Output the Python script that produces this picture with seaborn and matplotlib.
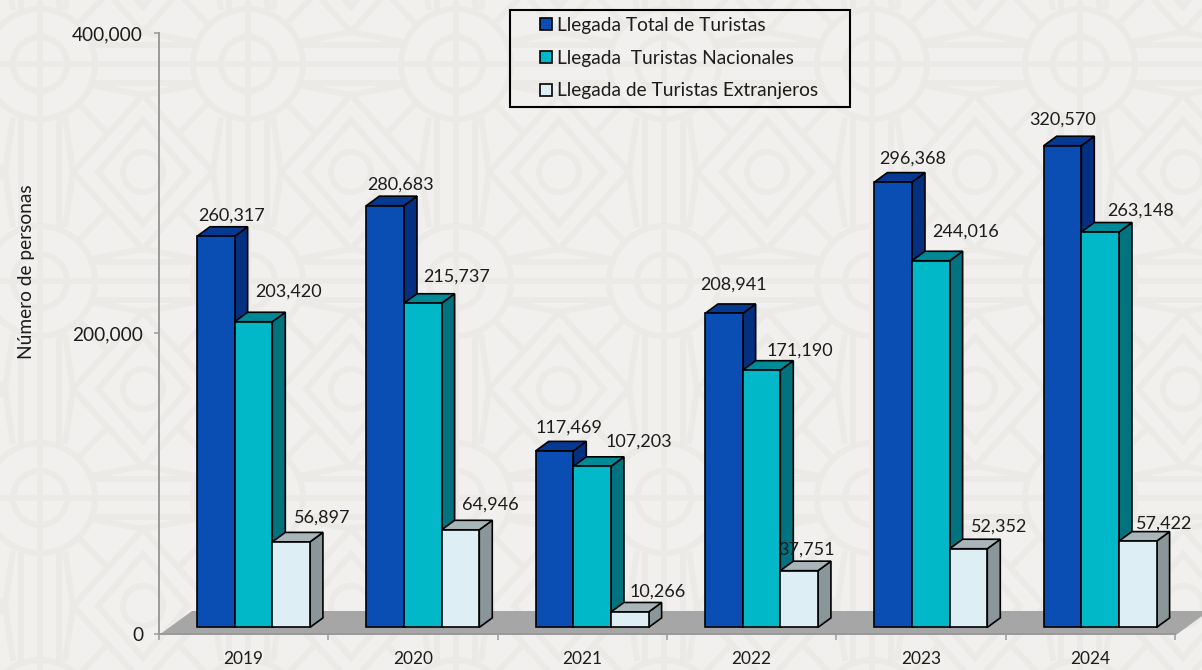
import pandas as pd
import matplotlib
matplotlib.use('Agg')
import matplotlib.pyplot as plt
import seaborn as sns
from matplotlib.patches import Circle, Patch, Polygon, Rectangle
from matplotlib.ticker import FixedLocator, FuncFormatter
from matplotlib.transforms import ScaledTranslation

# data
years = ['2019', '2020', '2021', '2022', '2023', '2024']
total = [260317, 280683, 117469, 208941, 296368, 320570]
nacionales = [203420, 215737, 107203, 171190, 244016, 263148]
extranjeros = [56897, 64946, 10266, 37751, 52352, 57422]
series_names = ['Llegada Total de Turistas', 'Llegada  Turistas Nacionales', 'Llegada de Turistas Extranjeros']

# colours front / side / top
front_colors = ['#0A4DB3', '#00B8C8', '#DDEFF5']
side_colors = ['#052F80', '#00737F', '#8A9699']
top_colors = ['#063A92', '#008A98', '#A9B6B9']

# label nudges in pixels, from the centre of the bar front
label_dx = [[16, 15, 14, 10, 19, 0], [35, 34, 47, 38, 35, 40], [31, 30, 28, 7, 31, 26]]
label_dy = [[21, 21, 23, 29, 23, 26], [30, 27, 25, 20, 29, 21], [24, 25, 20, 21, 22, 17]]

df = pd.DataFrame({
    'year': years * 3,
    'value': total + nacionales + extranjeros,
    'serie': [n for n in series_names for _ in years],
})

W, H = 1202, 670
ink = '#1c1c1c'
sns.set_theme(style='white')
plt.rcParams['font.family'] = ['Lato', 'DejaVu Sans']

fig = plt.figure(figsize=(W / 100, H / 100), dpi=100, facecolor='#F1F0EE')

# background in pixel coordinates
bg = fig.add_axes([0, 0, 1, 1], zorder=0)
bg.set_xlim(0, W)
bg.set_ylim(H, 0)
bg.axis('off')
pat = '#EBEAE6'
tile_x, tile_y = 208, 217


def seg(x0, y0, x1, y1, lw=4.3):
    bg.plot([x0, x1], [y0, y1], color=pat, lw=lw, solid_capstyle='butt', zorder=1)


for i in range(-1, 7):
    for j in range(-1, 4):
        cx, cy = 40 + i * tile_x, 64 + j * tile_y
        nx, ny = cx + tile_x, cy + tile_y
        for r in (55, 27):
            bg.add_patch(Circle((cx, cy), r, fill=False, ec=pat, lw=4.3, zorder=1))
        seg(cx - 55, cy, cx + 55, cy)
        seg(cx, cy - 55, cx, cy + 55)
        for off in (-19, 0, 19):
            seg(cx + 53, cy + off, nx - 53, cy + off)
            seg(cx + off, cy + 53, cx + off, ny - 53)
        dx, dy = cx + 103, cy + 108
        for rx, ry in ((70, 77), (45, 52)):
            bg.add_patch(Polygon([(dx - rx, dy), (dx, dy - ry), (dx + rx, dy), (dx, dy + ry)],
                                 closed=True, fill=False, ec=pat, lw=4.3, zorder=1))
        bg.add_patch(Circle((dx, dy), 20, fill=False, ec=pat, lw=4.3, zorder=1))
        for sx in (-1, 1):
            # shoulders from the diamond apex to the bands
            seg(dx, dy - 77, dx + sx * 52, dy - 77 - 10)
            seg(dx, dy + 77, dx + sx * 52, dy + 77 + 10)
            # flares from the side vertices to the circles
            seg(dx + sx * 70, dy, dx + sx * 78, dy - 55)
            seg(dx + sx * 70, dy, dx + sx * 78, dy + 55)
            for sy in (-1, 1):
                seg(dx + sx * 35, dy + sy * 38, dx + sx * 64, dy + sy * 68)

# floor of the 3d box
bg.add_patch(Polygon([(159, 635), (192, 611), (1202, 611), (1202, 616), (1176, 635)],
                     closed=True, fc='#A6A6A6', ec='none', zorder=5))

# legend frame
bg.add_patch(Rectangle((509.5, 9.5), 340, 97, fill=False, ec='black', lw=1.5, zorder=5))

# axis
left, right, top, bottom = 159, 1175, 33, 634
ax = fig.add_axes([left / W, 1 - bottom / H, (right - left) / W, (bottom - top) / H], zorder=1)
ax.patch.set_alpha(0)

sns.barplot(data=df, x='year', y='value', hue='serie', palette=front_colors, saturation=1,
            width=0.667, gap=0, edgecolor='black', linewidth=1.2, legend=False, ax=ax)

ax.set_xlim(-0.5, 5.5)
ax.set_ylim(0, 400000)

# shift of the bars over the floor, and depth of the boxes (pixels)
shift_x, shift_y = 9.8, 6.6
depth_x, depth_y = 13, 9.5
px_x = 6 / (right - left)
px_y = 400000 / (bottom - top)
bar_shift = ax.transData + ScaledTranslation(shift_x / 100, shift_y / 100, fig.dpi_scale_trans)

for s, cont in enumerate(ax.containers):
    for k, bar in enumerate(cont):
        x0 = bar.get_x()
        x1 = x0 + bar.get_width()
        h = bar.get_height()
        ddx = depth_x * px_x
        ddy = depth_y * px_y
        z = 3 + s
        bar.set_transform(bar_shift)
        bar.set_zorder(z + 0.2)
        bar.set_clip_on(False)
        side = Polygon([(x1, 0), (x1 + ddx, ddy), (x1 + ddx, h + ddy), (x1, h)], closed=True,
                       fc=side_colors[s], ec='black', lw=1.2, transform=bar_shift,
                       zorder=z, clip_on=False)
        roof = Polygon([(x0, h), (x0 + ddx, h + ddy), (x1 + ddx, h + ddy), (x1, h)], closed=True,
                       fc=top_colors[s], ec='black', lw=1.2, transform=bar_shift,
                       zorder=z + 0.1, clip_on=False)
        ax.add_patch(side)
        ax.add_patch(roof)
        ax.annotate(f'{h:,.0f}', xy=((x0 + x1) / 2, h), xycoords=bar_shift,
                    xytext=(label_dx[s][k] * 0.72, label_dy[s][k] * 0.72), textcoords='offset points',
                    ha='center', va='center', fontsize=13, color=ink, zorder=10)

# ticks
ax.yaxis.set_major_locator(FixedLocator([0, 200000, 400000]))
ax.yaxis.set_major_formatter(FuncFormatter(lambda v, p: f'{v:,.0f}'))
ax.set_xticks(range(len(years)), years)
ax.xaxis.set_minor_locator(FixedLocator([i - 0.5 for i in range(len(years) + 1)]))
ax.tick_params(axis='x', which='major', length=0, pad=12.5, labelsize=12.4, labelcolor=ink)
ax.tick_params(axis='x', which='minor', bottom=True, length=4, width=1.1, color='#9a9a9a')
ax.tick_params(axis='y', left=True, length=3.5, width=1.1, color='#9a9a9a', pad=8, labelsize=13.7, labelcolor=ink)
ax.set_xlabel('')
ax.set_ylabel('')
fig.text(27 / W, 1 - 272 / H, 'Número de personas', rotation=90, ha='center', va='center',
         fontsize=13.8, color=ink)

for side_name in ['top', 'right']:
    ax.spines[side_name].set_visible(False)
for side_name in ['left', 'bottom']:
    ax.spines[side_name].set_color('#9a9a9a')
    ax.spines[side_name].set_linewidth(1.4)

handles = [Patch(fc=c, ec='black', lw=1.2) for c in front_colors]
ax.legend(handles, series_names, loc='upper left', bbox_transform=fig.transFigure,
          bbox_to_anchor=(540 / W, 1 - 17 / H), frameon=False, fontsize=13.8, borderpad=0, borderaxespad=0,
          handlelength=0.6, handleheight=0.6, handletextpad=0.3, labelspacing=0.82,
          labelcolor=ink)

fig.savefig('out.png', dpi=100, facecolor=fig.get_facecolor())
